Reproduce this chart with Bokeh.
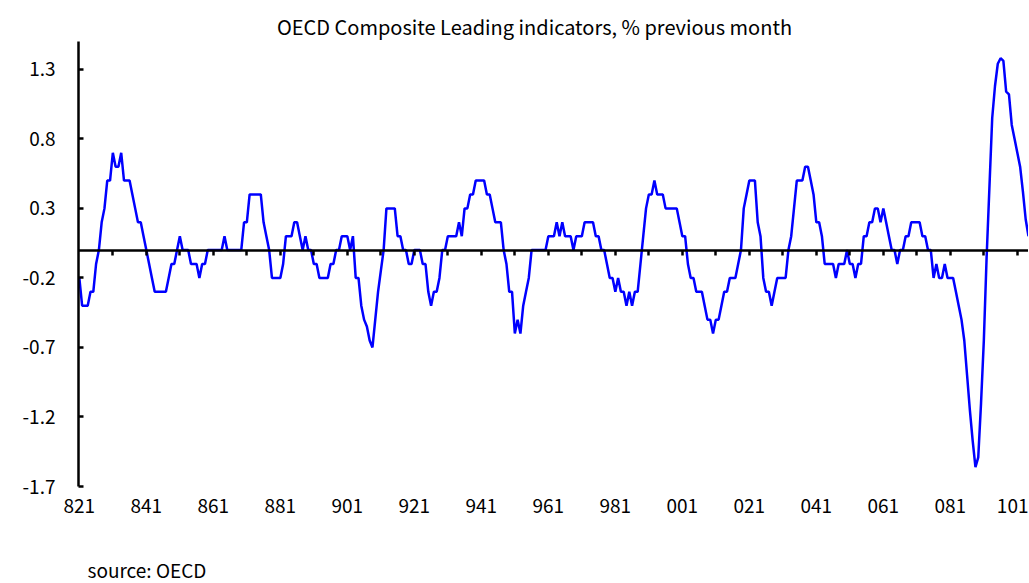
from bokeh.plotting import figure
from bokeh.models import Range1d, FixedTicker, Label, LinearAxis
from bokeh.embed import file_html
from bokeh.resources import INLINE

# OECD CLI, % change on previous month, monthly from 1982-01
cli_1982_1989 = [
    -0.2, -0.4, -0.4, -0.4, -0.3, -0.3, -0.1, 0.0, 0.2, 0.3, 0.5, 0.5,
    0.7, 0.6, 0.6, 0.7, 0.5, 0.5, 0.5, 0.4, 0.3, 0.2, 0.2, 0.1,
    0.0, -0.1, -0.2, -0.3, -0.3, -0.3, -0.3, -0.3, -0.2, -0.1, -0.1, 0.0,
    0.1, 0.0, 0.0, 0.0, -0.1, -0.1, -0.1, -0.2, -0.1, -0.1, 0.0, 0.0,
    0.0, 0.0, 0.0, 0.0, 0.1, 0.0, 0.0, 0.0, 0.0, 0.0, 0.0, 0.2,
    0.2, 0.4, 0.4, 0.4, 0.4, 0.4, 0.2, 0.1, 0.0, -0.2, -0.2, -0.2,
    -0.2, -0.1, 0.1, 0.1, 0.1, 0.2, 0.2, 0.1, 0.0, 0.1, 0.0, 0.0,
    -0.1, -0.1, -0.2, -0.2, -0.2, -0.2, -0.1, -0.1, 0.0, 0.0, 0.1, 0.1,
]
cli_1990_1999 = [
    0.1, 0.0, 0.1, -0.2, -0.2, -0.4, -0.5, -0.55, -0.65, -0.7, -0.5, -0.3,
    -0.15, 0.0, 0.3, 0.3, 0.3, 0.3, 0.1, 0.1, 0.0, 0.0, -0.1, -0.1,
    0.0, 0.0, 0.0, -0.1, -0.1, -0.3, -0.4, -0.3, -0.3, -0.2, 0.0, 0.0,
    0.1, 0.1, 0.1, 0.1, 0.2, 0.1, 0.3, 0.3, 0.4, 0.4, 0.5, 0.5,
    0.5, 0.5, 0.4, 0.4, 0.3, 0.2, 0.2, 0.2, 0.0, -0.1, -0.3, -0.3,
    -0.6, -0.5, -0.6, -0.4, -0.3, -0.2, 0.0, 0.0, 0.0, 0.0, 0.0, 0.0,
    0.1, 0.1, 0.1, 0.2, 0.1, 0.2, 0.1, 0.1, 0.1, 0.0, 0.1, 0.1,
    0.1, 0.2, 0.2, 0.2, 0.2, 0.1, 0.1, 0.0, 0.0, -0.1, -0.2, -0.2,
    -0.3, -0.2, -0.3, -0.3, -0.4, -0.3, -0.4, -0.3, -0.3, -0.1, 0.1, 0.3,
    0.4, 0.4, 0.5, 0.4, 0.4, 0.4, 0.3, 0.3, 0.3, 0.3, 0.3, 0.2,
]
cli_2000_2010 = [
    0.1, 0.1, -0.1, -0.2, -0.2, -0.3, -0.3, -0.3, -0.4, -0.5, -0.5, -0.6,
    -0.5, -0.5, -0.4, -0.3, -0.3, -0.2, -0.2, -0.2, -0.1, 0.0, 0.3, 0.4,
    0.5, 0.5, 0.5, 0.2, 0.1, -0.2, -0.3, -0.3, -0.4, -0.3, -0.2, -0.2,
    -0.2, -0.2, 0.0, 0.1, 0.3, 0.5, 0.5, 0.5, 0.6, 0.6, 0.5, 0.4,
    0.2, 0.2, 0.1, -0.1, -0.1, -0.1, -0.1, -0.2, -0.1, -0.1, -0.1, 0.0,
    -0.1, -0.1, -0.2, -0.1, -0.1, 0.1, 0.1, 0.2, 0.2, 0.3, 0.3, 0.2,
    0.3, 0.2, 0.1, 0.0, 0.0, -0.1, 0.0, 0.0, 0.1, 0.1, 0.2, 0.2,
    0.2, 0.2, 0.1, 0.1, 0.0, 0.0, -0.2, -0.1, -0.2, -0.2, -0.1, -0.2,
    -0.2, -0.2, -0.3, -0.4, -0.5, -0.65, -0.9, -1.15, -1.37, -1.56, -1.49, -1.1,
    -0.65, -0.05, 0.45, 0.95, 1.18, 1.34, 1.38, 1.36, 1.14, 1.12, 0.9, 0.8,
    0.7, 0.6, 0.42, 0.22, 0.1,
]

values = cli_1982_1989 + cli_1990_1999 + cli_2000_2010
months = list(range(len(values)))

x_tick_labels = ["821", "841", "861", "881", "901", "921", "941", "961",
                 "981", "001", "021", "041", "061", "081", "101"]
x_tick_positions = [24 * k for k in range(len(x_tick_labels))]
y_tick_values = [-1.7, -1.2, -0.7, -0.2, 0.3, 0.8, 1.3]
y_tick_labels = ["-1.7", "-1.2", "-0.7", "-0.2", "0.3", "0.8", "1.3"]
year_tick_positions = list(range(12, x_tick_positions[-1] + 1, 12))

title_text = "OECD Composite Leading indicators, % previous month"
source_text = "source: OECD"

FONT = "Noto Sans CJK JP"

# ---- layout (pixels, figure coordinates) ----
W, H = 1028, 582
AXIS_X_PX = 78                              # y axis line position
AXIS_TOP_PX, AXIS_BOTTOM_PX = 41, 486       # y of 1.5 and -1.7
Y_LO, Y_HI = -1.7, 1.5
X_AXIS_START, X_END = -0.3, 340
ppu = (AXIS_BOTTOM_PX - AXIS_TOP_PX) / (Y_HI - Y_LO)
ppm = (W - AXIS_X_PX) / (X_END - X_AXIS_START)
y_top = Y_HI + AXIS_TOP_PX / ppu
y_bottom = Y_LO - (H - AXIS_BOTTOM_PX) / ppu
x_lo = X_AXIS_START - AXIS_X_PX / ppm

p = figure(width=W, height=H, output_backend="svg", toolbar_location=None,
           x_range=Range1d(x_lo, X_END), y_range=Range1d(y_bottom, y_top),
           min_border=0)
p.outline_line_color = None
p.grid.visible = False
p.background_fill_color = "white"

# series
p.line(months, values, line_color="#0000FF", line_width=2.5)

# zero line with yearly tick marks
zero_axis = LinearAxis(fixed_location=0, bounds=(X_AXIS_START, X_END),
                       ticker=FixedTicker(ticks=year_tick_positions),
                       major_label_overrides={t: "" for t in year_tick_positions},
                       axis_line_color="black", axis_line_width=2.5,
                       major_tick_line_color="black", major_tick_line_width=2.5,
                       major_tick_in=0, major_tick_out=5,
                       minor_tick_line_color=None)
p.add_layout(zero_axis, "below")

# y axis
ya = p.yaxis[0]
ya.fixed_location = X_AXIS_START
ya.bounds = (Y_LO, Y_HI)
ya.ticker = FixedTicker(ticks=y_tick_values)
ya.major_label_overrides = {v: s for v, s in zip(y_tick_values, y_tick_labels)}
ya.major_tick_in = 5
ya.major_tick_out = 0
ya.minor_tick_line_color = None
ya.axis_line_width = 2.5
ya.axis_line_color = "black"
ya.major_tick_line_width = 2.5
ya.major_tick_line_color = "black"
ya.major_label_standoff = 23
ya.major_label_text_font = FONT
ya.major_label_text_font_size = "19px"
ya.major_label_text_color = "black"

# x axis: date labels under the plot area
xa = p.xaxis[0]
xa.fixed_location = Y_LO
xa.ticker = FixedTicker(ticks=x_tick_positions)
xa.major_label_overrides = {v: s for v, s in zip(x_tick_positions, x_tick_labels)}
xa.axis_line_color = None
xa.major_tick_line_color = None
xa.minor_tick_line_color = None
xa.major_tick_out = 0
xa.major_tick_in = 0
xa.major_label_standoff = 12
xa.major_label_text_font = FONT
xa.major_label_text_font_size = "19px"
xa.major_label_text_color = "black"

p.add_layout(Label(x=534, y=H - 26, x_units="screen", y_units="screen", text=title_text,
                   text_align="center", text_baseline="alphabetic",
                   text_font=FONT, text_font_size="20px", text_color="black"))
p.add_layout(Label(x=87, y=13, x_units="screen", y_units="screen", text=source_text,
                   text_align="left", text_baseline="alphabetic",
                   text_font=FONT, text_font_size="19px", text_color="black"))

open("out.html", "w").write(file_html(p, INLINE))
